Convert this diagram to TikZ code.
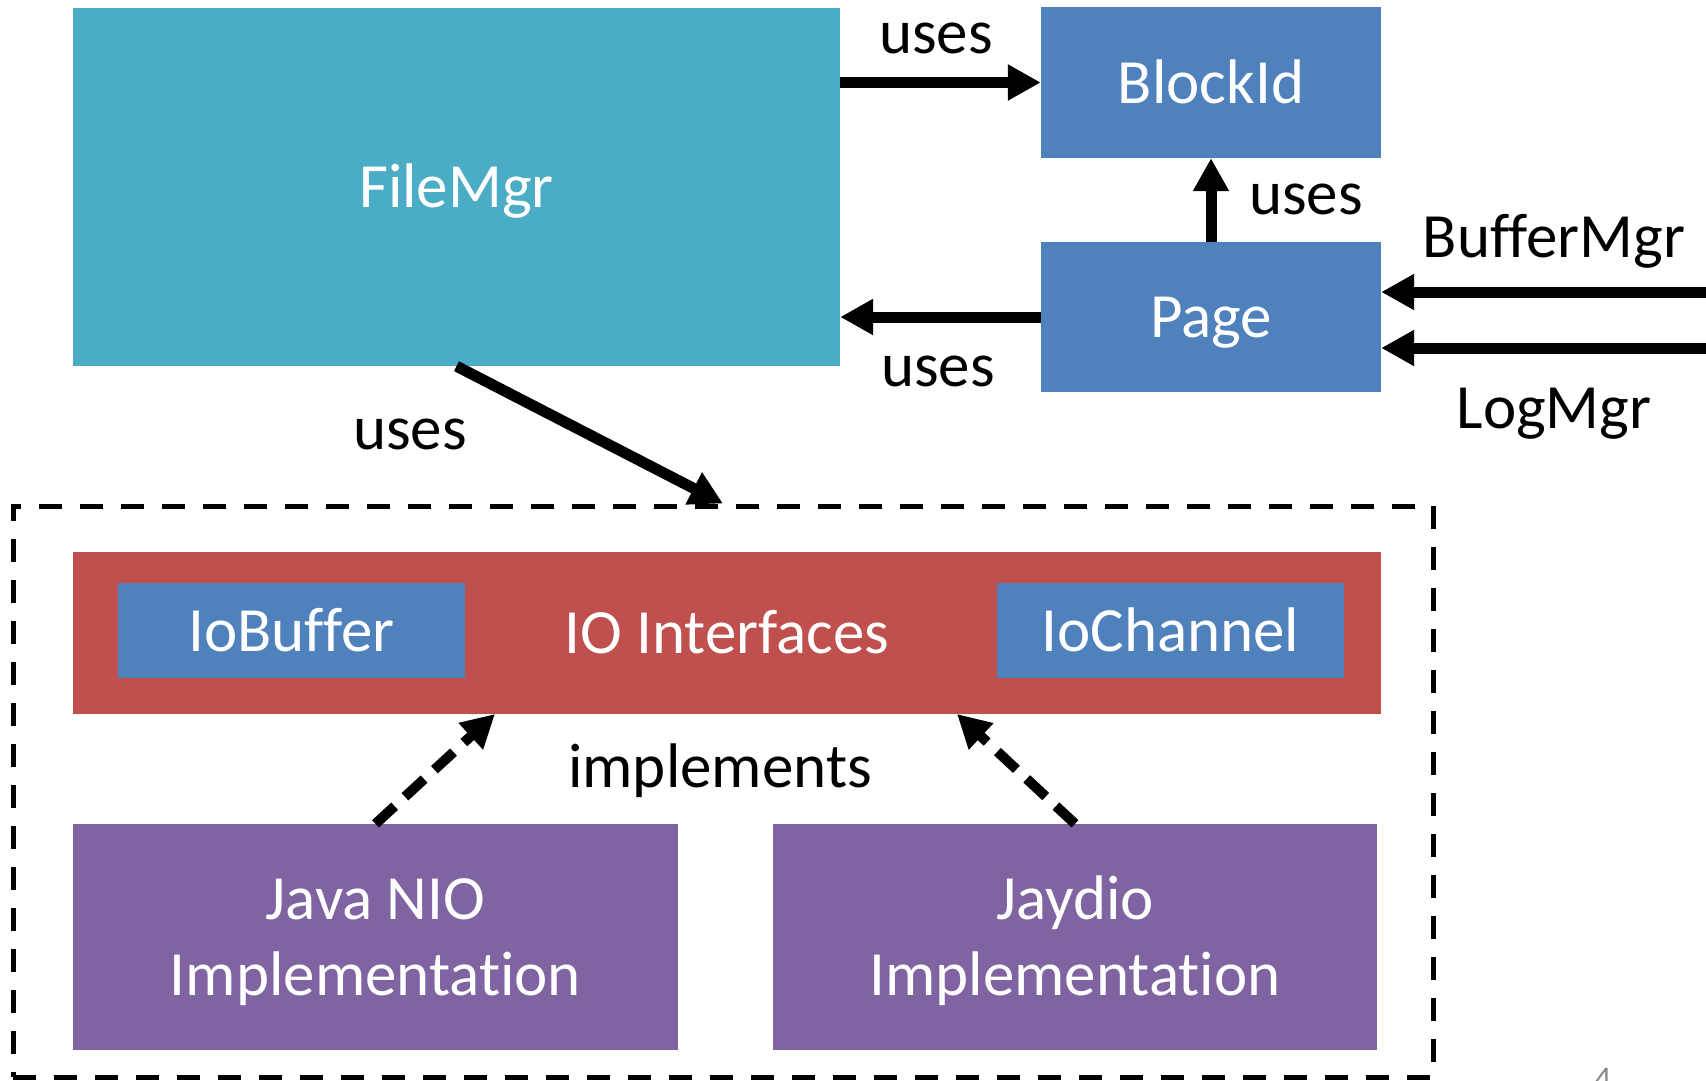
\documentclass[tikz,border=0pt]{standalone}
\usepackage{fontspec}
\setmainfont{Carlito}[Ligatures=NoCommon]
\usetikzlibrary{arrows.meta}

\definecolor{filecol}{HTML}{4BACC6}
\definecolor{blockcol}{HTML}{4F81BD}
\definecolor{ifacecol}{HTML}{C0504D}
\definecolor{implcol}{HTML}{8064A2}
\definecolor{pagenum}{HTML}{898989}

% same line box for every text, as in the slide
\newcommand{\linestrut}{\rule[-16pt]{0pt}{73pt}}

\begin{document}
\begin{tikzpicture}[x=1pt,
            y=-1pt,
            >={Triangle[length=33pt,width=34pt]},
            every node/.style={font=\fontsize{63}{76}\selectfont,
                               execute at begin node=\linestrut,
                               execute at end node=\linestrut},
            box/.style={inner sep=0pt, text=white, align=center},
            filebox/.style={box, fill=filecol},
            bluebox/.style={box, fill=blockcol},
            redbox/.style={box, fill=ifacecol},
            purplebox/.style={box, fill=implcol},
            framebox/.style={draw, line width=5pt, dash pattern=on 23pt off 18pt},
            uses/.style={->, line width=11pt},
            impl/.style={->, line width=10pt, dash pattern=on 26pt off 14pt}]

        \useasboundingbox (0,0) rectangle (1706,1081);

        % top part
        \node[filebox, minimum width=767pt, minimum height=358pt] (filemgr) at (456.5,187)   {FileMgr};
        \node[bluebox, minimum width=340pt, minimum height=151pt] (blockid) at (1211,82.5)   {BlockId};
        \node[bluebox, minimum width=340pt, minimum height=150pt] (page)    at (1211,317)    {Page};

        \coordinate (bufin) at (1706,292);
        \coordinate (login) at (1706,348);

        % io layer
        \node[framebox, minimum width=1420pt, minimum height=571pt] (iolayer) at (723,791.5) {};
        \node[redbox, minimum width=1308pt, minimum height=162pt]   (iface)     at (727,633)     {IO Interfaces};
        \node[bluebox, minimum width=347pt, minimum height=95pt]    (iobuffer)  at (291.5,630.5) {IoBuffer};
        \node[bluebox, minimum width=347pt, minimum height=95pt]    (iochannel) at (1170.5,630.5) {IoChannel};
        \node[purplebox, minimum width=605pt, minimum height=226pt] (javanio)   at (375.5,937)   {\linestrut Java NIO\\Implementation};
        \node[purplebox, minimum width=604pt, minimum height=226pt] (jaydio)    at (1075,937)    {\linestrut Jaydio\\Implementation};

        \coordinate (niotip)    at (495,714);
        \coordinate (jaydiotip) at (957,714);

        % connectors
        \draw[uses] (filemgr.east |- blockid.west) -- (blockid.west);
        \draw[uses] (page.west) -- (page.west -| filemgr.east);
        \draw[uses] (page.north) -- (blockid.south);
        \draw[uses] (bufin) -- (bufin -| page.east);
        \draw[uses] (login) -- (login -| page.east);
        \draw[uses] (filemgr.south) -- (iolayer.north);
        \draw[impl] (javanio.north) -- (niotip);
        \draw[impl] (jaydio.north) -- (jaydiotip);

        % labels
        \node (usesblock)  at (936,33)   {uses};
        \node (usesup)     at (1306,194) {uses};
        \node (usespage)   at (938,366)  {uses};
        \node (usesio)     at (410,429)  {uses};
        \node (buffermgr)  at (1554,237) {BufferMgr};
        \node (logmgr)     at (1554,408) {LogMgr};
        \node (implements) at (720,767)  {implements};
        \node[anchor=base, text=pagenum, font=\fontsize{33}{40}\selectfont] (slideno) at (1603,1089) {4};

    \end{tikzpicture}
\end{document}
